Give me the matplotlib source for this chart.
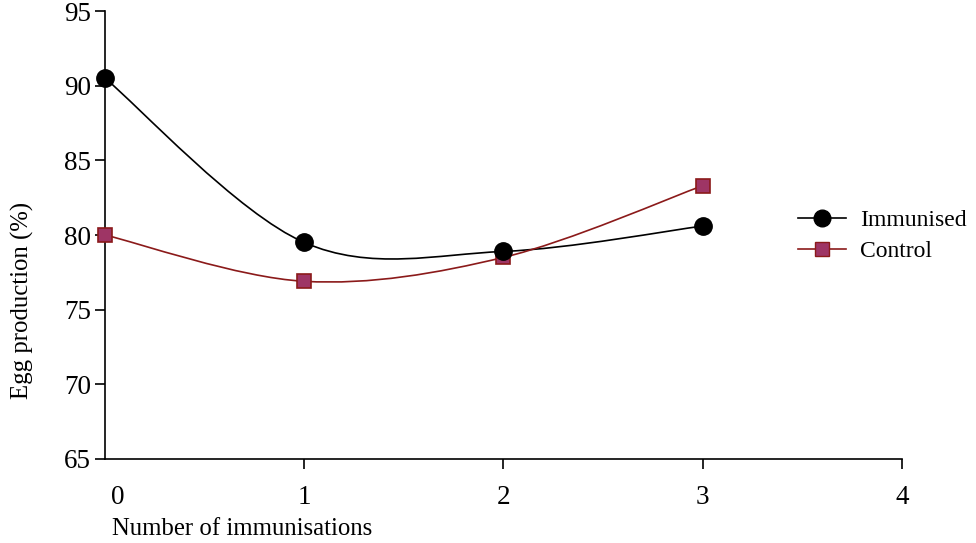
import numpy as np
import matplotlib.pyplot as plt
from matplotlib.path import Path
from matplotlib.patches import PathPatch
from matplotlib.lines import Line2D
import matplotlib.transforms as mtransforms

plt.rcParams['font.family'] = ['Liberation Serif', 'DejaVu Serif']

# data
immunisations = [0, 1, 2, 3]
immunised = [90.5, 79.5, 78.9, 80.6]
control = [80.0, 76.9, 78.5, 83.3]

black = '#000000'
ctrl_line = '#8b1a1a'
ctrl_fill = '#9e3565'


def smooth_path(xs, ys):
    # Excel-style smoothed line: cubic Bezier segments (Catmull-Rom)
    pts = np.column_stack([xs, ys]).astype(float)
    n = len(pts)
    verts = [pts[0]]
    codes = [Path.MOVETO]
    for i in range(n - 1):
        p0 = pts[i - 1] if i > 0 else pts[i]
        p1 = pts[i]
        p2 = pts[i + 1]
        p3 = pts[i + 2] if i + 2 < n else pts[i + 1]
        c1 = p1 + (p2 - p0) / 6
        c2 = p2 - (p3 - p1) / 6
        verts += [c1, c2, p2]
        codes += [Path.CURVE4] * 3
    return Path(verts, codes)


fig = plt.figure(figsize=(9.76, 5.43), dpi=100)
ax = fig.add_axes([0.1076, 0.1547, 0.924 - 0.1076, 0.9797 - 0.1547])

ax.add_patch(PathPatch(smooth_path(immunisations, immunised), fill=False,
                       edgecolor=black, lw=1.2, zorder=2))
ax.add_patch(PathPatch(smooth_path(immunisations, control), fill=False,
                       edgecolor=ctrl_line, lw=1.2, zorder=2))
ax.plot(immunisations, immunised, 'o', ms=12.5, color=black, zorder=4, clip_on=False)
ax.plot(immunisations, control, 's', ms=10, mfc=ctrl_fill, mec=ctrl_line,
        mew=1.2, zorder=3, clip_on=False)

ax.set_xlim(0, 4)
ax.set_ylim(65, 95)
ax.set_xticks([0, 1, 2, 3, 4])
ax.set_yticks([65, 70, 75, 80, 85, 90, 95])
ax.spines['top'].set_visible(False)
ax.spines['right'].set_visible(False)
for s in ('left', 'bottom'):
    ax.spines[s].set_linewidth(1.2)
ax.tick_params(axis='both', direction='out', length=7, width=1.2, labelsize=19.5)
ax.tick_params(axis='x', pad=12)
ax.tick_params(axis='y', pad=3)

# first x label sits a little right of the spine
lbl0 = ax.get_xticklabels()[0]
lbl0.set_transform(lbl0.get_transform() + mtransforms.ScaledTranslation(13 / 100, 0, fig.dpi_scale_trans))
ax.xaxis.get_major_ticks()[0].tick1line.set_visible(False)

ax.set_ylabel('Egg production (%)', fontsize=17.8, va='center')
ax.yaxis.set_label_coords(-0.103, 0.353)
ax.set_xlabel('Number of immunisations', fontsize=17.8, ha='left', va='center')
ax.xaxis.set_label_coords(0.009, -0.156)

handles = [
    Line2D([], [], color=black, lw=1.2, marker='o', ms=12),
    Line2D([], [], color=ctrl_line, lw=1.2, marker='s', ms=10, mfc=ctrl_fill, mec=ctrl_line),
]
fig.legend(handles, ['Immunised', 'Control'], loc='center left',
           bbox_to_anchor=(0.806, 0.566), frameon=False, fontsize=17,
           handlelength=2.0, handletextpad=0.6, labelspacing=0.4, borderpad=0)

fig.savefig('out.png', dpi=100)
